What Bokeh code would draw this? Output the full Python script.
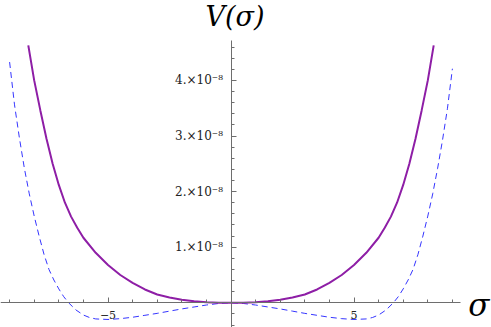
from bokeh.plotting import figure
from bokeh.models import Range1d, FixedTicker, Label
from bokeh.embed import file_html
from bokeh.resources import INLINE

# ---- data (V in units of 1e-8) ----
sigma_purple_half = [0, 0.5, 1, 1.5, 2, 2.5, 3, 3.5, 4, 4.5, 5, 5.5, 6, 6.25, 6.5, 6.75,
                     7, 7.25, 7.5, 7.75, 8, 8.24]
V_purple_half = [0, 0.002, 0.01, 0.027, 0.055, 0.095, 0.15, 0.24, 0.36, 0.5, 0.68, 0.9,
                 1.17, 1.35, 1.55, 1.8, 2.12, 2.5, 2.95, 3.46, 4.0, 4.63]

sigma_blue = [-9, -8.8, -8.6, -8.4, -8.2, -8.0, -7.8, -7.6, -7.4, -7.2, -7.0, -6.8, -6.6,
              -6.3, -6.0, -5.75, -5.5, -5.0, -4.5, -4.0, -3.5, -3.0, -2.5, -2.0, -1.5,
              -1.0, -0.5, 0,
              0.5, 1.0, 1.5, 2.0, 2.5, 3.0, 3.5, 4.0, 4.5, 5.0, 5.5, 5.75, 6.0, 6.3, 6.6,
              6.8, 7.0, 7.2, 7.4, 7.6, 7.8, 8.0, 8.2, 8.4, 8.6, 8.8, 9]
V_blue = [4.33, 3.56, 2.96, 2.42, 1.96, 1.56, 1.2, 0.87, 0.6, 0.41, 0.25, 0.11, 0,
          -0.13, -0.22, -0.265, -0.29, -0.30, -0.285, -0.26, -0.225, -0.19, -0.15, -0.11,
          -0.075, -0.04, -0.012, 0,
          -0.012, -0.04, -0.075, -0.11, -0.15, -0.19, -0.225, -0.26, -0.285, -0.30, -0.29,
          -0.265, -0.22, -0.13, 0, 0.11, 0.25, 0.41, 0.6, 0.87, 1.2, 1.56, 1.96, 2.42,
          2.93, 3.5, 4.21]

x_major = [-5, 5]
x_minor = [-9, -8, -7, -6, -5, -4, -3, -2, -1, 1, 2, 3, 4, 5, 6, 7, 8, 9]
x_labels = {-5: "\u22125", 5: "5"}
y_major = [1, 2, 3, 4]
y_minor = [-0.4, -0.2, 0.2, 0.4, 0.6, 0.8, 1.0, 1.2, 1.4, 1.6, 1.8, 2.0, 2.2, 2.4, 2.6,
           2.8, 3.0, 3.2, 3.4, 3.6, 3.8, 4.0, 4.2, 4.4, 4.6]
y_labels = {1: "1.\u00d710\u207b\u2078", 2: "2.\u00d710\u207b\u2078",
            3: "3.\u00d710\u207b\u2078", 4: "4.\u00d710\u207b\u2078"}

sigma_purple = [-s for s in reversed(sigma_purple_half[1:])] + sigma_purple_half
V_purple = list(reversed(V_purple_half[1:])) + V_purple_half

W, H = 491, 327
x0_px, x_scale = 230.5, 24.6
y0_px, y_scale = 302.3, 55.6

p = figure(width=W, height=H, output_backend="svg", toolbar_location=None,
           x_range=Range1d(-x0_px / x_scale, (W - x0_px) / x_scale),
           y_range=Range1d(-(H - y0_px) / y_scale, y0_px / y_scale),
           min_border=0, outline_line_color=None, background_fill_color="white")
p.grid.visible = False

FONT = "DejaVu Serif"
AX = "#6e6e6e"

xa = p.xaxis[0]
xa.fixed_location = 0
xa.bounds = (-9.6, 9.33)
xa.ticker = FixedTicker(ticks=x_major, minor_ticks=x_minor)
xa.major_label_overrides = x_labels
xa.axis_line_color = AX
xa.major_tick_line_color = AX
xa.minor_tick_line_color = AX
xa.major_tick_in = 5
xa.major_tick_out = 0
xa.minor_tick_in = 3
xa.minor_tick_out = 0
xa.major_label_standoff = 8
xa.major_label_text_font = FONT
xa.major_label_text_font_size = "11px"
xa.major_label_text_color = "#222222"

ya = p.yaxis[0]
ya.fixed_location = 0
ya.bounds = (-0.5, 4.71)
ya.ticker = FixedTicker(ticks=y_major, minor_ticks=y_minor)
ya.major_label_overrides = y_labels
ya.axis_line_color = AX
ya.major_tick_line_color = AX
ya.minor_tick_line_color = AX
ya.major_tick_in = 5
ya.major_tick_out = 0
ya.minor_tick_in = 3
ya.minor_tick_out = 0
ya.major_label_standoff = 8
ya.major_label_text_font = FONT
ya.major_label_text_font_size = "12px"
ya.major_label_text_color = "#222222"

p.line(sigma_blue, V_blue, line_color="#3535ff", line_width=1, line_dash="6 4")
p.line(sigma_purple, V_purple, line_color="#8e1ea6", line_width=2)

p.add_layout(Label(x=0, y=p.y_range.end, text="V(\u03c3)", text_align="center",
                   text_baseline="top", x_offset=4, y_offset=0, text_font=FONT,
                   text_font_style="italic", text_font_size="27px", text_color="black"))
p.add_layout(Label(x=p.x_range.end, y=0, text="\u03c3", text_align="right",
                   text_baseline="middle", x_offset=-2, y_offset=-2, text_font=FONT,
                   text_font_style="italic", text_font_size="31px", text_color="black"))

open("out.html", "w").write(file_html(p, INLINE))
